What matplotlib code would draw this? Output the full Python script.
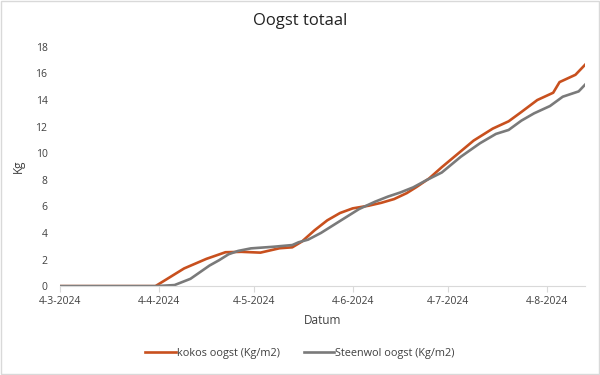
import matplotlib
matplotlib.use('Agg')
import matplotlib.pyplot as plt
from matplotlib.patches import Rectangle
import pandas as pd

plt.rcParams['font.family'] = ['Open Sans', 'DejaVu Sans']

# kokos oogst (Kg/m2)
kokos_dates = ['2024-03-04', '2024-04-03', '2024-04-12', '2024-04-19', '2024-04-25',
               '2024-04-30', '2024-05-06', '2024-05-12', '2024-05-16', '2024-05-19',
               '2024-05-23', '2024-05-27', '2024-05-31', '2024-06-04', '2024-06-09',
               '2024-06-13', '2024-06-17', '2024-06-21', '2024-06-24', '2024-06-28',
               '2024-07-02', '2024-07-06', '2024-07-12', '2024-07-18', '2024-07-23',
               '2024-07-27', '2024-08-01', '2024-08-06', '2024-08-08', '2024-08-13',
               '2024-08-16']
kokos = [0, 0, 1.33, 2.05, 2.55,
         2.58, 2.52, 2.85, 2.92, 3.35,
         4.2, 4.95, 5.5, 5.85, 6.05,
         6.27, 6.55, 7.0, 7.45, 8.1,
         8.95, 9.75, 10.95, 11.85, 12.4,
         13.1, 14.0, 14.55, 15.35, 15.9,
         16.65]

# Steenwol oogst (Kg/m2)
steenwol_dates = ['2024-03-04', '2024-04-03', '2024-04-09', '2024-04-14', '2024-04-17',
                  '2024-04-20', '2024-04-23', '2024-04-26', '2024-04-29', '2024-05-03',
                  '2024-05-10', '2024-05-16', '2024-05-18', '2024-05-21', '2024-05-25',
                  '2024-05-29', '2024-06-02', '2024-06-06', '2024-06-11', '2024-06-15',
                  '2024-06-19', '2024-06-23', '2024-06-27', '2024-07-02', '2024-07-08',
                  '2024-07-14', '2024-07-19', '2024-07-23', '2024-07-27', '2024-07-31',
                  '2024-08-05', '2024-08-09', '2024-08-14', '2024-08-16']
steenwol = [0, 0, 0.08, 0.55, 1.05,
            1.55, 1.95, 2.4, 2.65, 2.84,
            2.96, 3.09, 3.3, 3.5, 4.0,
            4.6, 5.2, 5.8, 6.35, 6.73,
            7.05, 7.43, 7.95, 8.55, 9.74,
            10.75, 11.45, 11.75, 12.45, 13.0,
            13.55, 14.25, 14.65, 15.15]

tick_dates = ['2024-03-04', '2024-04-04', '2024-05-04', '2024-06-04', '2024-07-04', '2024-08-04']
tick_labels = ['4-3-2024', '4-4-2024', '4-5-2024', '4-6-2024', '4-7-2024', '4-8-2024']

fig = plt.figure(figsize=(6, 3.75), dpi=100)
ax = fig.add_axes([0.1, 0.237, 0.875, 0.638])

ax.plot(pd.to_datetime(kokos_dates), kokos, color='#C8501E', lw=1.9, label='kokos oogst (Kg/m2)')
ax.plot(pd.to_datetime(steenwol_dates), steenwol, color='#7A7A7A', lw=1.9, label='Steenwol oogst (Kg/m2)')

ax.set_xlim(pd.Timestamp('2024-03-04'), pd.Timestamp('2024-08-16'))
ax.set_ylim(0, 18)
ax.set_yticks(range(0, 19, 2))
ax.set_xticks(pd.to_datetime(tick_dates))
ax.set_xticklabels(tick_labels)

for s in ['top', 'right', 'left']:
    ax.spines[s].set_visible(False)
ax.spines['bottom'].set_color('#D9D9D9')
ax.tick_params(axis='y', length=0, labelsize=7.5, colors='#404040', pad=9)
ax.tick_params(axis='x', length=4, color='#D9D9D9', labelsize=7.5, labelcolor='#404040', pad=3)

# title centred on the figure, not on the axes
fig.text(0.5, 0.945, 'Oogst totaal', fontsize=12, color='#222222', ha='center', va='center')
ax.set_xlabel('Datum', fontsize=8.5, color='#404040', labelpad=5)
ax.set_ylabel('Kg', fontsize=8.5, color='#404040', labelpad=8)

leg = fig.legend(loc='center', bbox_to_anchor=(0.5, 0.058), ncol=2, frameon=False,
                 fontsize=7.8, handlelength=2.8, handletextpad=0.1, columnspacing=2.2)
for t in leg.get_texts():
    t.set_color('#404040')

fig.patches.append(Rectangle((0.002, 0.003), 0.996, 0.994, transform=fig.transFigure,
                             fill=False, edgecolor='#D9D9D9', lw=1))

fig.savefig('out.png', dpi=100)
